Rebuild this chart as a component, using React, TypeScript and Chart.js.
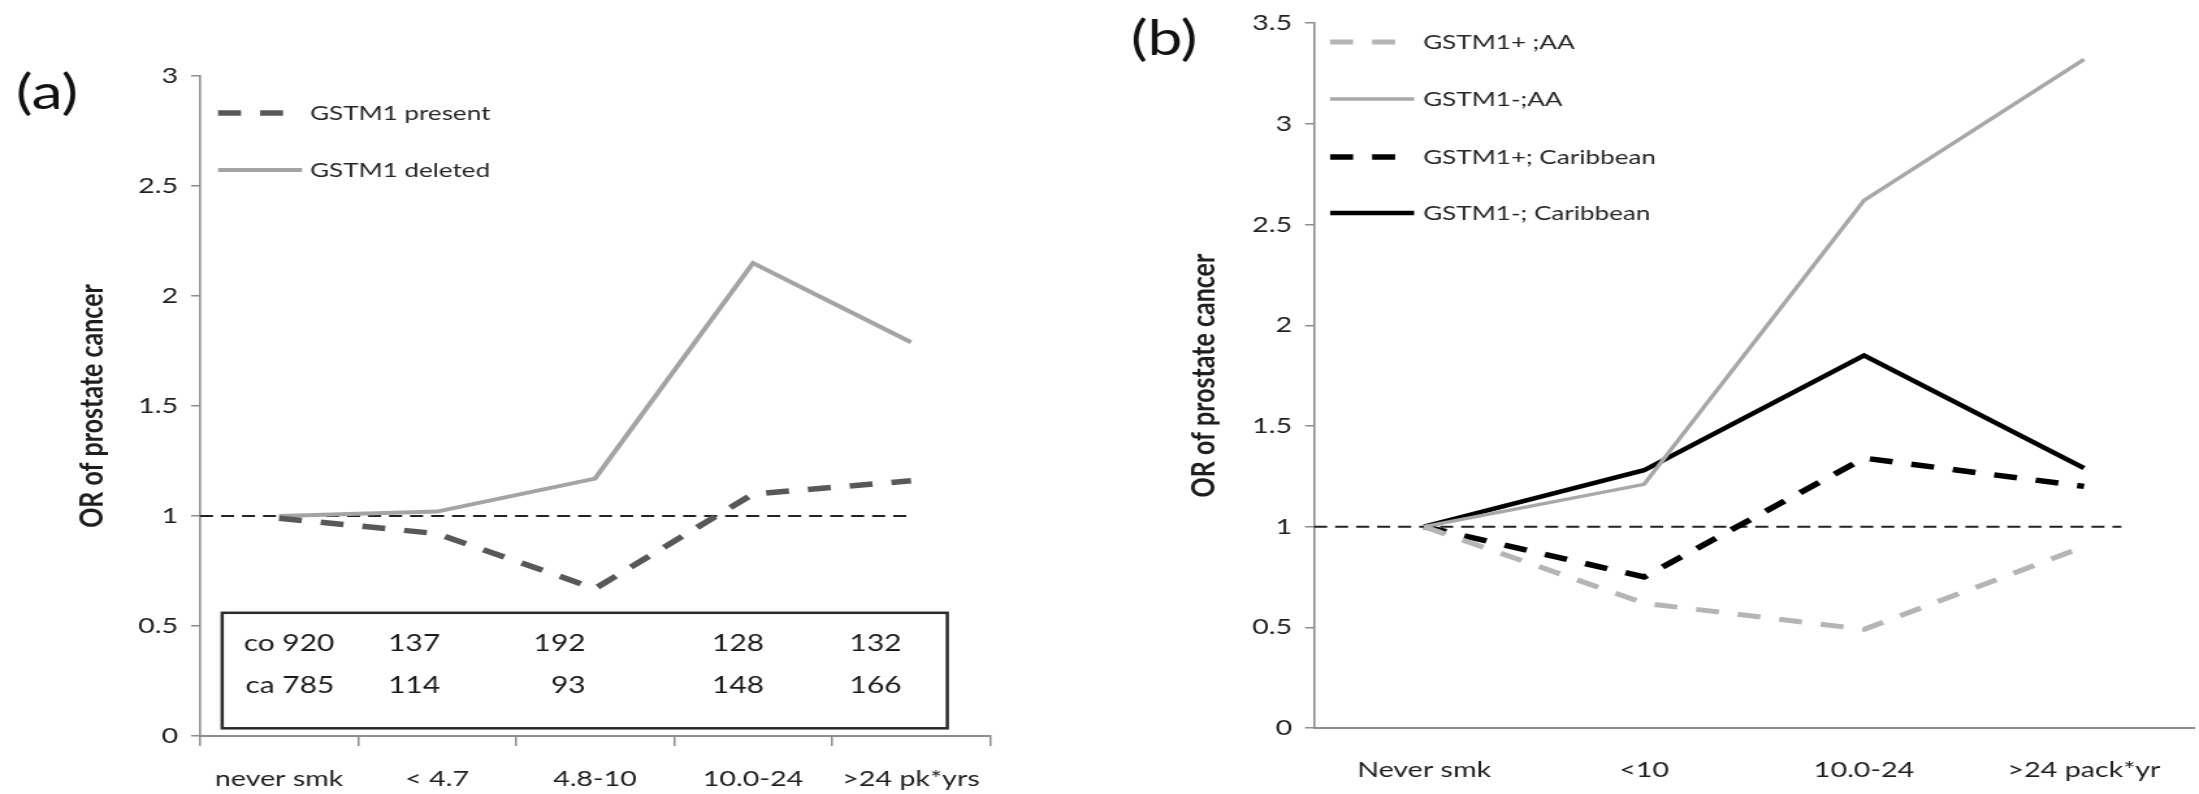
import React, { useEffect, useRef } from 'react';
import { Chart, registerables } from 'chart.js';

Chart.register(...registerables);

// Panel (a): odds ratio of prostate cancer by pack-years, by GSTM1 genotype
const doseLabelsA = ['never smk', '< 4.7', '4.8-10', '10.0-24', '>24 pk*yrs'];
const orPresent = [0.99, 0.92, 0.67, 1.1, 1.16];
const orDeleted = [1.0, 1.02, 1.17, 2.15, 1.79];
const controlCounts = ['co 920', '137', '192', '128', '132'];
const caseCounts = ['ca 785', '114', '93', '148', '166'];

// Panel (b): odds ratio by pack-years, GSTM1 genotype and ancestry
const doseLabelsB = ['Never smk', '<10', '10.0-24', '>24 pack*yr'];
const orPlusAA = [1.0, 0.62, 0.49, 0.9];
const orMinusAA = [1.0, 1.21, 2.62, 3.32];
const orPlusCaribbean = [1.0, 0.75, 1.34, 1.2];
const orMinusCaribbean = [1.0, 1.28, 1.85, 1.29];

const yMaxA = 3;
const yMaxB = 3.5;
const yStep = 0.5;
const referenceOR = 1;

// The figure is drawn on a narrower canvas and widened by CSS.
const STRETCH = 1.3;
const sx = (v: number) => v / STRETCH;
const FONT = 'Lato, "Open Sans", "DejaVu Sans", sans-serif';
const AXIS = '#8c8c8c';
const INK = '#1e1e1e';

type TableCfg = {
  rows: string[][];
  rowValues: number[];
  rightEdges: number[];
  box: { x0: number; x1: number; y0: number; y1: number };
};

type ExtrasCfg = {
  panelLabel: string;
  panelX: number;
  panelY: number;
  legendRowsY: number[];
  legendLineFrom: number;
  legendLineTo: number;
  legendTextAt: number;
  refEnd: number;
  table?: TableCfg;
};

function extrasPlugin(cfg: ExtrasCfg) {
  return {
    id: 'panelExtras',
    beforeDatasetsDraw(chart: any) {
      const { ctx, chartArea, scales } = chart;
      const y = scales.y.getPixelForValue(referenceOR);
      const x1 = scales.x.getPixelForValue(cfg.refEnd);
      ctx.save();
      ctx.strokeStyle = '#222';
      ctx.lineWidth = 2;
      ctx.setLineDash([sx(13), sx(8)]);
      ctx.beginPath();
      ctx.moveTo(chartArea.left, y);
      ctx.lineTo(x1, y);
      ctx.stroke();
      ctx.restore();
    },
    afterDraw(chart: any) {
      const { ctx, chartArea, scales } = chart;
      ctx.save();
      // panel letter
      ctx.fillStyle = '#111';
      ctx.font = `48px ${FONT}`;
      ctx.textAlign = 'center';
      ctx.textBaseline = 'middle';
      ctx.fillText(cfg.panelLabel, cfg.panelX, cfg.panelY);

      // legend
      ctx.font = `20px ${FONT}`;
      ctx.textAlign = 'left';
      chart.data.datasets.forEach((ds: any, i: number) => {
        const y = cfg.legendRowsY[i];
        ctx.save();
        ctx.strokeStyle = ds.borderColor;
        ctx.lineWidth = ds.borderWidth;
        ctx.setLineDash(ds.borderDash || []);
        ctx.beginPath();
        ctx.moveTo(chartArea.left + cfg.legendLineFrom, y);
        ctx.lineTo(chartArea.left + cfg.legendLineTo, y);
        ctx.stroke();
        ctx.restore();
        ctx.fillStyle = '#262626';
        ctx.fillText(ds.label, chartArea.left + cfg.legendTextAt, y + 1);
      });

      // case / control counts table
      const t = cfg.table;
      if (t) {
        const bx0 = scales.x.getPixelForValue(t.box.x0);
        const bx1 = scales.x.getPixelForValue(t.box.x1);
        const by0 = scales.y.getPixelForValue(t.box.y1);
        const by1 = scales.y.getPixelForValue(t.box.y0);
        ctx.strokeStyle = '#2a2a2a';
        ctx.lineWidth = 2.5;
        ctx.setLineDash([]);
        ctx.strokeRect(bx0, by0, bx1 - bx0, by1 - by0);
        ctx.fillStyle = '#1a1a1a';
        ctx.font = `23px ${FONT}`;
        ctx.textAlign = 'right';
        ctx.textBaseline = 'middle';
        t.rows.forEach((row, r) => {
          const y = scales.y.getPixelForValue(t.rowValues[r]);
          row.forEach((txt, c) => {
            ctx.fillText(txt, scales.x.getPixelForValue(t.rightEdges[c]), y);
          });
        });
      }
      ctx.restore();
    },
  };
}

function yAxis(max: number, axisWidth: number, titleCenter: number) {
  const titleSize = 25;
  return {
    min: 0,
    max,
    ticks: {
      stepSize: yStep,
      color: INK,
      font: { family: FONT, size: 22 },
      padding: sx(13),
      callback: (v: any) => String(v),
    },
    grid: { drawOnChartArea: false, drawTicks: true, tickLength: sx(9), color: AXIS, lineWidth: 1.5 },
    border: { display: true, color: AXIS, width: 1.6 },
    title: {
      display: true,
      text: 'OR of prostate cancer',
      color: INK,
      font: { family: FONT, size: titleSize, weight: 'bold' },
      padding: { top: sx(titleCenter) - (titleSize * 1.2) / 2, bottom: 0 },
    },
    afterFit: (s: any) => {
      s.width = sx(axisWidth);
    },
  };
}

function baseOptions(padding: any, xAxis: any, y: any) {
  return {
    responsive: false,
    animation: false as const,
    events: [],
    elements: { point: { radius: 0 }, line: { tension: 0 } },
    layout: { padding },
    plugins: { legend: { display: false }, tooltip: { enabled: false } },
    scales: { x: xAxis, y },
  };
}

const dashLong = [sx(23), sx(19)];

export default function App() {
  const refA = useRef<HTMLCanvasElement>(null);
  const refB = useRef<HTMLCanvasElement>(null);

  useEffect(() => {
    document.body.style.margin = '0';
    document.body.style.overflow = 'hidden';

    const chartA = new Chart(refA.current as HTMLCanvasElement, {
      type: 'line',
      data: {
        labels: doseLabelsA,
        datasets: [
          { label: 'GSTM1 present', data: orPresent, borderColor: '#585858', borderWidth: 5.5, borderDash: dashLong },
          { label: 'GSTM1 deleted', data: orDeleted, borderColor: '#a4a4a4', borderWidth: 4 },
        ],
      },
      options: baseOptions(
        { left: 0, top: 76, right: sx(110), bottom: 0 },
        {
          type: 'category',
          offset: true,
          grid: { display: true, drawOnChartArea: false, drawTicks: true, tickLength: 10, offset: true, color: AXIS, lineWidth: 1.5 },
          border: { display: true, color: AXIS, width: 2 },
          ticks: { color: INK, font: { family: FONT, size: 22 }, padding: 20, maxRotation: 0, autoSkip: false },
          afterFit: (s: any) => {
            s.height = 58;
          },
        },
        yAxis(yMaxA, 200, 92)
      ) as any,
      plugins: [
        extrasPlugin({
          panelLabel: '(a)',
          panelX: sx(47),
          panelY: 94,
          legendRowsY: [113, 170],
          legendLineFrom: sx(18),
          legendLineTo: sx(102),
          legendTextAt: sx(110),
          refEnd: 4,
          table: {
            rows: [controlCounts, caseCounts],
            rowValues: [0.42, 0.23],
            rightEdges: [0.35, 1.02, 1.94, 3.07, 3.94],
            box: { x0: -0.36, x1: 4.23, y0: 0.035, y1: 0.56 },
          },
        }),
      ],
    });

    const chartB = new Chart(refB.current as HTMLCanvasElement, {
      type: 'line',
      data: {
        labels: doseLabelsB,
        datasets: [
          { label: 'GSTM1+ ;AA', data: orPlusAA, borderColor: '#b5b5b5', borderWidth: 5, borderDash: dashLong },
          { label: 'GSTM1-;AA', data: orMinusAA, borderColor: '#a8a8a8', borderWidth: 3.5 },
          { label: 'GSTM1+; Caribbean', data: orPlusCaribbean, borderColor: '#000000', borderWidth: 5.5, borderDash: dashLong },
          { label: 'GSTM1-; Caribbean', data: orMinusCaribbean, borderColor: '#000000', borderWidth: 4.5 },
        ],
      },
      options: baseOptions(
        { left: 0, top: 22, right: sx(5), bottom: 0 },
        {
          type: 'category',
          offset: true,
          grid: { display: false, drawOnChartArea: false, drawTicks: false },
          border: { display: true, color: AXIS, width: 2 },
          ticks: { color: INK, font: { family: FONT, size: 22 }, padding: 29, maxRotation: 0, autoSkip: false },
          afterFit: (s: any) => {
            s.height = 66;
          },
        },
        yAxis(yMaxB, 214, 104)
      ) as any,
      plugins: [
        extrasPlugin({
          panelLabel: '(b)',
          panelX: sx(64),
          panelY: 40,
          legendRowsY: [42, 99, 157, 213],
          legendLineFrom: sx(16),
          legendLineTo: sx(100),
          legendTextAt: sx(109),
          refEnd: 3.17,
        }),
      ],
    });

    return () => {
      chartA.destroy();
      chartB.destroy();
    };
  }, []);

  const wA = 1100;
  const wB = 1099;
  return (
    <div style={{ position: 'absolute', left: 0, top: 0, width: 2199, height: 794, background: '#fff' }}>
      <canvas
        ref={refA}
        width={Math.round(sx(wA))}
        height={794}
        style={{ position: 'absolute', left: 0, top: 0, width: `${wA}px`, height: '794px' }}
      />
      <canvas
        ref={refB}
        width={Math.round(sx(wB))}
        height={794}
        style={{ position: 'absolute', left: wA, top: 0, width: `${wB}px`, height: '794px' }}
      />
    </div>
  );
}
